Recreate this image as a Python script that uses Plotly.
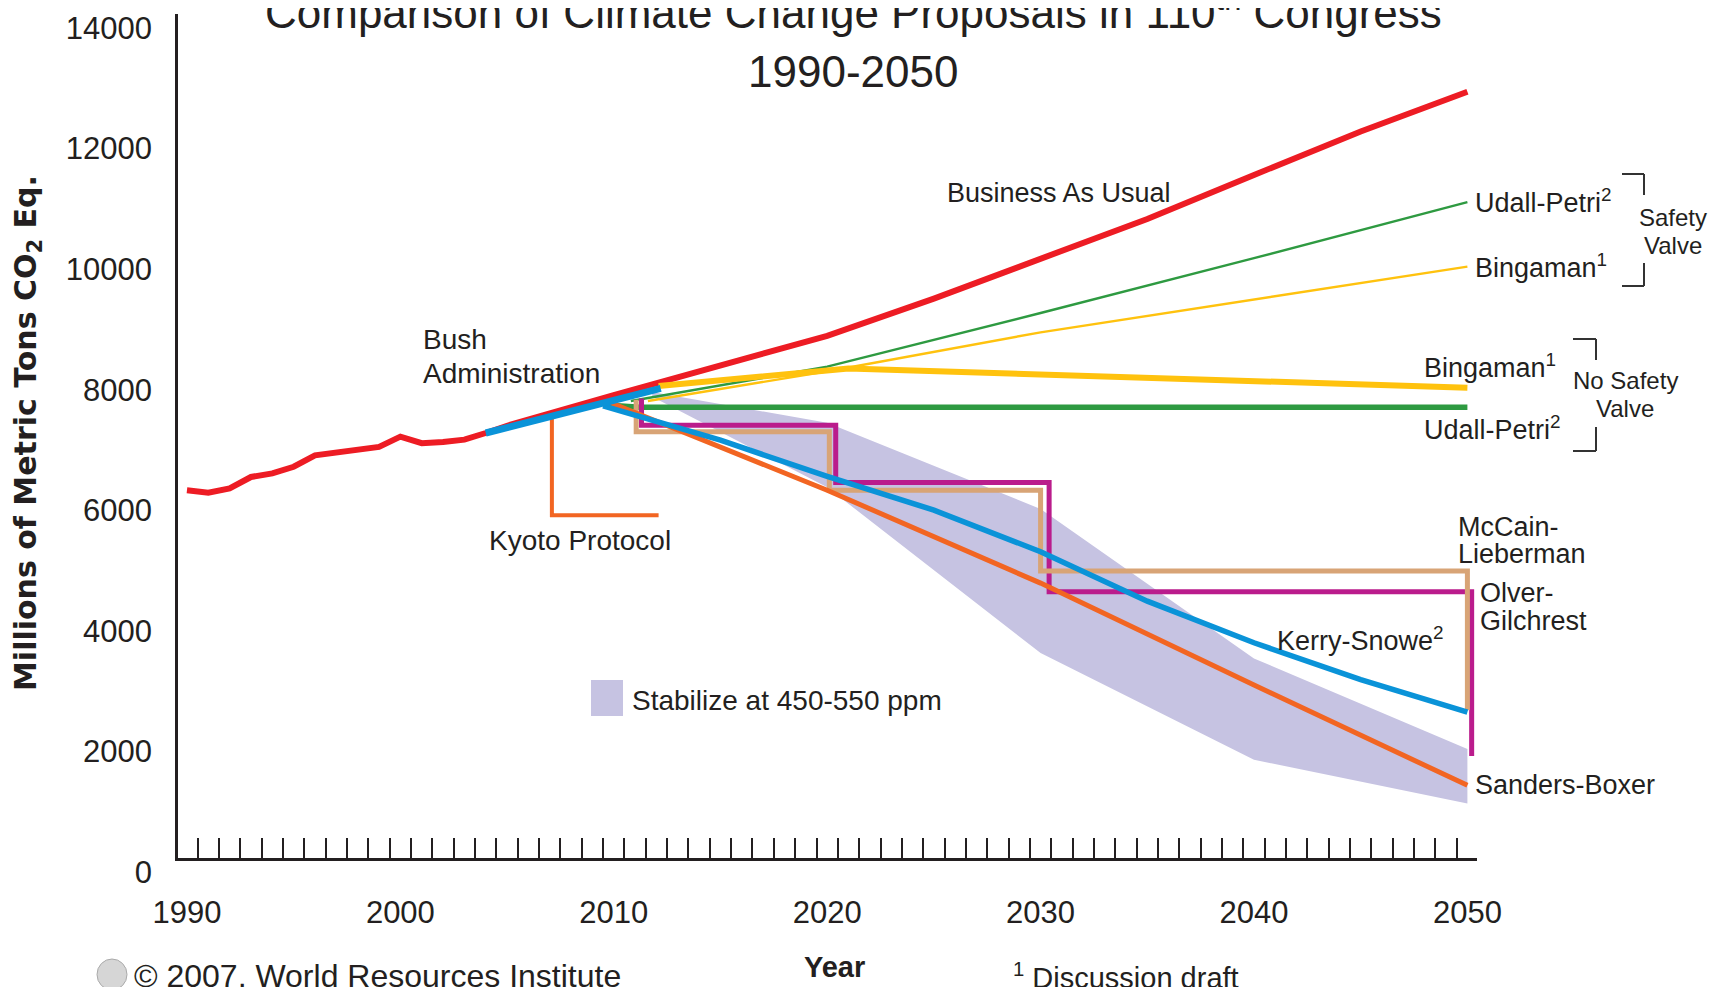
import plotly.graph_objects as go

# ---------------- data ----------------
hist_years = [1990, 1991, 1992, 1993, 1994, 1995, 1996, 1997, 1998, 1999, 2000, 2001, 2002, 2003, 2004]
hist_vals = [6100, 6060, 6130, 6320, 6380, 6490, 6680, 6720, 6780, 6820, 6990, 6880, 6900, 6940, 7050]

bau_years = [2004, 2005, 2010, 2015, 2020, 2025, 2030, 2035, 2040, 2045, 2050]
bau_vals = [7050, 7170, 7680, 8180, 8660, 9280, 9930, 10600, 11330, 12050, 12710]

bush_years = [2004, 2012.2]
bush_vals = [7050, 7790]

kyoto_years = [2007.1, 2007.1, 2012.1]
kyoto_vals = [7290, 5685, 5685]

udall_sv_years = [2010.8, 2020, 2030, 2040, 2050]
udall_sv_vals = [7580, 8150, 9040, 9950, 10880]

bing_sv_years = [2011.6, 2020.3, 2030, 2050]
bing_sv_vals = [7580, 8090, 8720, 9810]

bing_nsv_years = [2012.1, 2021, 2050]
bing_nsv_vals = [7830, 8120, 7800]

udall_nsv_years = [2009.5, 2011.2, 2050]
udall_nsv_vals = [7520, 7478, 7478]

olver_years = [2011.3, 2011.3, 2020.4, 2020.4, 2030.4, 2030.4, 2050.2, 2050.2]
olver_vals = [7620, 7180, 7180, 6230, 6230, 4415, 4415, 1690]

mccain_years = [2011.05, 2011.05, 2020.1, 2020.1, 2030, 2030, 2050, 2050]
mccain_vals = [7600, 7070, 7070, 6100, 6100, 4760, 4760, 2450]

sanders_years = [2009.8, 2020, 2030, 2040, 2050]
sanders_vals = [7560, 6100, 4560, 2870, 1205]

kerry_years = [2009.5, 2015, 2020, 2025, 2030, 2035, 2040, 2045, 2050]
kerry_vals = [7500, 6930, 6330, 5770, 5080, 4260, 3570, 2960, 2420]

band_upper_years = [2011.8, 2020, 2030, 2040, 2050]
band_upper_vals = [7730, 7220, 5790, 3310, 1810]
band_lower_years = [2011.8, 2020, 2030, 2040, 2050]
band_lower_vals = [7650, 6150, 3400, 1630, 905]

y_ticks = [0, 2000, 4000, 6000, 8000, 10000, 12000, 14000]
x_ticks = [1990, 2000, 2010, 2020, 2030, 2040, 2050]

# ---------------- colours ----------------
RED = "#ED1C24"
GREEN = "#2E9A41"
YELLOW = "#FFC20E"
BLUE = "#0A93D8"
ORANGE = "#F26522"
MAGENTA = "#BA1C8C"
TAN = "#D8A476"
LAVENDER = "#C6C3E2"
INK = "#231F20"

SANS = "Liberation Sans, Arial, sans-serif"

fig = go.Figure()


def add_line(xs, ys, color, width):
    fig.add_trace(go.Scatter(x=xs, y=ys, mode="lines",
                             line=dict(color=color, width=width),
                             hoverinfo="skip", showlegend=False))


# stabilization band
band_x = band_upper_years + band_lower_years[::-1]
band_y = band_upper_vals + band_lower_vals[::-1]
fig.add_trace(go.Scatter(x=band_x, y=band_y, mode="lines", fill="toself",
                         fillcolor=LAVENDER, line=dict(width=0, color=LAVENDER),
                         hoverinfo="skip", showlegend=False))

add_line(kyoto_years, kyoto_vals, ORANGE, 4)
add_line(hist_years + bau_years[1:], hist_vals + bau_vals[1:], RED, 6)
add_line(udall_sv_years, udall_sv_vals, GREEN, 2.4)
add_line(bing_sv_years, bing_sv_vals, YELLOW, 2.4)
add_line(bing_nsv_years, bing_nsv_vals, YELLOW, 6)
add_line(udall_nsv_years, udall_nsv_vals, GREEN, 5.5)
add_line(olver_years, olver_vals, MAGENTA, 5)
add_line(mccain_years, mccain_vals, TAN, 5)
add_line(sanders_years, sanders_vals, ORANGE, 5)
add_line(kerry_years, kerry_vals, BLUE, 5.5)
add_line(bush_years, bush_vals, BLUE, 7)

# ---------------- layout helpers (screen pixel -> paper) ----------------
OFF = 8  # default page body margin
W, H = 1724 - OFF, 987 - OFF
PL, PR, PT, PB = 178, 1477, 14, 858  # plot area in screen pixels


def px(X):
    return (X - PL) / (PR - PL)


def py(Y):
    return (PB - Y) / (PB - PT)


annotations = []


def label(text, X, Y, anchor="left", size=27, family=SANS, bold=False, angle=0):
    t = "<b>" + text + "</b>" if bold else text
    annotations.append(dict(text=t, x=px(X), y=py(Y), xref="paper", yref="paper",
                            xanchor=anchor, yanchor="middle", showarrow=False,
                            textangle=angle,
                            font=dict(family=family, size=size, color=INK)))


label("Comparison of Climate Change Proposals in 110<sup>th</sup> Congress", 853, 9, "center", 44)
label("1990-2050", 853, 72, "center", 44)

label("Business As Usual", 945, 193)
label("Udall-Petri<sup>2</sup>", 1473, 201)
label("Bingaman<sup>1</sup>", 1473, 266)
label("Safety", 1673, 217, "center", 24)
label("Valve", 1673, 245, "center", 24)
label("Bingaman<sup>1</sup>", 1422, 366)
label("No Safety", 1625, 380, "center", 24)
label("Valve", 1625, 408, "center", 24)
label("Udall-Petri<sup>2</sup>", 1422, 428)
label("McCain-", 1456, 527)
label("Lieberman", 1456, 554)
label("Olver-", 1478, 593)
label("Gilchrest", 1478, 621)
label("Kerry-Snowe<sup>2</sup>", 1275, 639)
label("Sanders-Boxer", 1473, 785)
label("Kyoto Protocol", 487, 540, size=28)
label("Bush", 421, 339, size=28)
label("Administration", 421, 374, size=28)
label("Stabilize at 450-550 ppm", 630, 700, size=28)
label("© 2007, World Resources Institute", 132, 976, size=32)
label("<sup>1</sup> Discussion draft", 1011, 976, size=29)
label("Year", 834, 967, "center", 29, bold=True)
label("Millions of Metric Tons CO<sub>2</sub> Eq.", 27, 433, "center", 30,
      family="DejaVu Sans, Verdana, sans-serif", bold=True, angle=-90)

shapes = []


def seg(X0, Y0, X1, Y1, color="#333333", width=2):
    shapes.append(dict(type="line", xref="paper", yref="paper",
                       x0=px(X0), y0=py(Y0), x1=px(X1), y1=py(Y1),
                       line=dict(color=color, width=width)))


# brackets
seg(1622, 174, 1644, 174)
seg(1644, 174, 1644, 195)
seg(1622, 286, 1644, 286)
seg(1644, 263, 1644, 286)
seg(1573, 339, 1596, 339)
seg(1596, 339, 1596, 360)
seg(1573, 451, 1596, 451)
seg(1596, 427, 1596, 451)

# legend swatch
shapes.append(dict(type="rect", xref="paper", yref="paper",
                   x0=px(591), x1=px(623), y0=py(716), y1=py(680),
                   fillcolor=LAVENDER, line=dict(width=0)))
# logo
shapes.append(dict(type="circle", xref="paper", yref="paper",
                   x0=px(97), x1=px(127), y0=py(990), y1=py(959),
                   fillcolor="#D6D6D6", line=dict(width=1, color="#AAAAAA")))

fig.update_layout(
    width=W, height=H, autosize=False,
    margin=dict(l=PL - OFF, r=1724 - PR, t=PT - OFF, b=987 - PB, pad=0),
    paper_bgcolor="white", plot_bgcolor="white",
    showlegend=False,
    annotations=annotations,
    shapes=shapes,
    xaxis=dict(range=[1989.58, 2050.45], showgrid=False, zeroline=False, automargin=False,
               showline=True, linecolor=INK, linewidth=2.7,
               tickmode="linear", tick0=1990, dtick=10, ticks="",
               tickfont=dict(family=SANS, size=31, color=INK),
               ticklabelstandoff=25,
               minor=dict(ticks="inside", tickmode="linear", tick0=1990.5, dtick=1,
                          ticklen=20, tickwidth=2, tickcolor=INK, showgrid=False)),
    yaxis=dict(range=[0, 14000], showgrid=False, zeroline=False, automargin=False,
               showline=True, linecolor=INK, linewidth=2.7,
               tickmode="array", tickvals=y_ticks, ticktext=[str(v) for v in y_ticks],
               ticks="", tickfont=dict(family=SANS, size=31, color=INK),
               ticklabelshift=14, ticklabelstandoff=17, ticklabeloverflow="allow"),
)

fig.write_html("out.html")
